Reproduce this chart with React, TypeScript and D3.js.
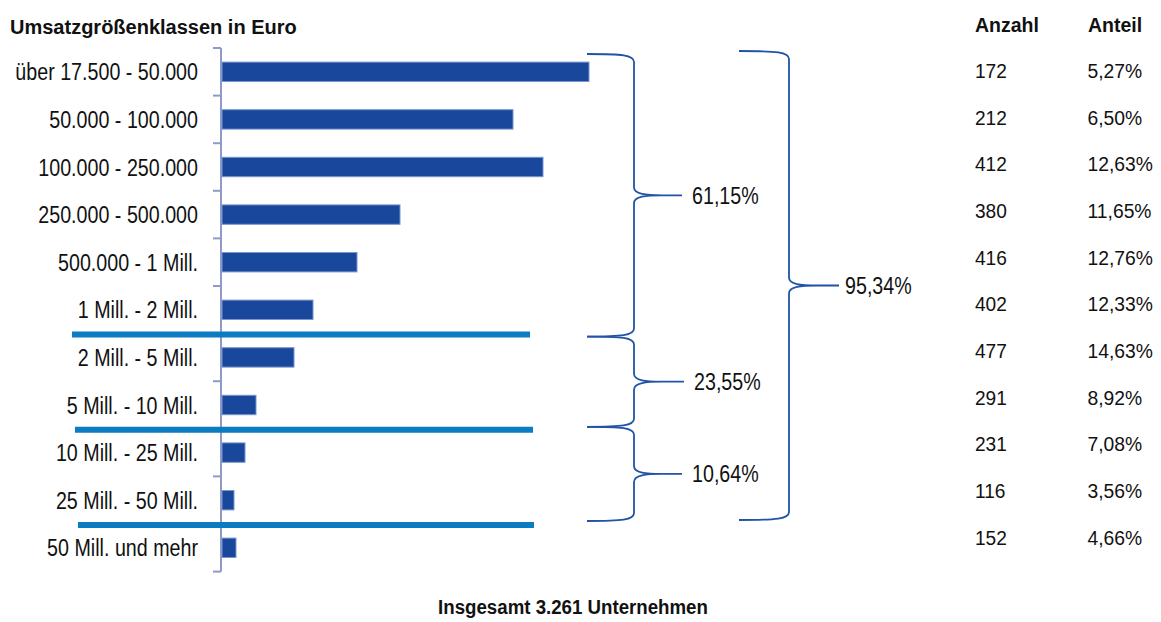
import React from "react";
import * as d3 from "d3";

const categories = [
  "über 17.500 - 50.000",
  "50.000 - 100.000",
  "100.000 - 250.000",
  "250.000 - 500.000",
  "500.000 - 1 Mill.",
  "1 Mill. - 2 Mill.",
  "2 Mill. - 5 Mill.",
  "5 Mill. - 10 Mill.",
  "10 Mill. - 25 Mill.",
  "25 Mill. - 50 Mill.",
  "50 Mill. und mehr",
];
const barValues = [367, 291, 321, 178, 135, 91, 72, 34, 23, 12, 14];
const anzahl = [172, 212, 412, 380, 416, 402, 477, 291, 231, 116, 152];
const anteil = ["5,27%", "6,50%", "12,63%", "11,65%", "12,76%", "12,33%", "14,63%", "8,92%", "7,08%", "3,56%", "4,66%"];
const groupLabels = ["61,15%", "23,55%", "10,64%", "95,34%"];
const groupRanges = [[0, 6], [6, 8], [8, 10], [0, 10]];
const separatorRows = [6, 8, 10];

const FONT = "'Liberation Sans', Arial, sans-serif";
const BAR = "#19479b";
const BRACE = "#2153a6";
const SEP = "#0b7cc1";
const AXIS = "#8f9ac8";

function bracePath(x0: number, xv: number, xt: number, y0: number, y1: number) {
  const r = 8;
  const ym = (y0 + y1) / 2;
  return [
    `M${x0},${y0}`,
    `C${xv - 12},${y0} ${xv},${y0 + 1} ${xv},${y0 + r}`,
    `L${xv},${ym - r}`,
    `C${xv},${ym - 1} ${xv + 12},${ym} ${xv + 28},${ym}`,
    `L${xt},${ym}`,
    `M${xv + 28},${ym}`,
    `C${xv + 12},${ym} ${xv},${ym + 1} ${xv},${ym + r}`,
    `L${xv},${y1 - r}`,
    `C${xv},${y1 - 1} ${xv - 12},${y1} ${x0},${y1}`,
  ].join(" ");
}

export default function App() {
  const W = 1161, H = 622;
  const axisX = 221;
  const y = d3.scaleBand<number>().domain(d3.range(categories.length)).range([48, 571.6]).paddingInner(0).paddingOuter(0);
  const bw = y.bandwidth();
  const barH = 19.4;
  const x = d3.scaleLinear().domain([0, 367]).range([axisX, 588]);
  const rowY = d3.scaleLinear().domain([0, categories.length - 1]).range([71, 537.5]);
  const boundary = (i: number) => (y(0) as number) + i * bw;

  const sepExt = [[72, 530], [75, 533], [78, 534]];
  const braceAdj = [[6, 3], [3, -2], [-2, -3], [3, -4]];
  const braceX = [[587, 634, 682], [587, 634, 684], [587, 634, 682], [739, 789, 839]];

  return (
    <svg width={W} height={H} style={{ position: "absolute", left: 0, top: 0, background: "#fff" }}>
      <text x={10} y={34} fontFamily={FONT} fontWeight="bold" fontSize={20} fill="#111">Umsatzgrößenklassen in Euro</text>
      <text x={975} y={32} fontFamily={FONT} fontWeight="bold" fontSize={19.5} fill="#111">Anzahl</text>
      <text x={1088} y={32} fontFamily={FONT} fontWeight="bold" fontSize={19.5} fill="#111">Anteil</text>

      {/* axis */}
      <line x1={axisX} x2={axisX} y1={boundary(0)} y2={boundary(categories.length)} stroke={AXIS} strokeWidth={2} />
      {d3.range(categories.length + 1).map((i) => (
        <line key={"t" + i} x1={213} x2={axisX} y1={boundary(i)} y2={boundary(i)} stroke={AXIS} strokeWidth={2} />
      ))}

      {/* bars */}
      {barValues.map((v, i) => (
        <rect key={"b" + i} x={x(0) + 1} y={(y(i) as number) + bw / 2 - barH / 2} width={x(v) - x(0)} height={barH}
          fill={BAR} stroke="#7b95cf" strokeWidth={1} />
      ))}

      {/* category labels */}
      {categories.map((c, i) => (
        <text key={"c" + i} transform={`translate(198,${(y(i) as number) + bw / 2 + 8.5}) scale(0.82,1)`}
          textAnchor="end" fontFamily={FONT} fontSize={24} fill="#111">{c}</text>
      ))}

      {/* separators */}
      {separatorRows.map((r, k) => (
        <line key={"s" + k} x1={sepExt[k][0]} x2={sepExt[k][1]} y1={boundary(r) + 1} y2={boundary(r) + 1} stroke={SEP} strokeWidth={6} />
      ))}

      {/* braces */}
      {groupRanges.map((g, k) => {
        const y0 = boundary(g[0]) + braceAdj[k][0];
        const y1 = boundary(g[1]) + braceAdj[k][1];
        const [x0, xv, xt] = braceX[k];
        return (
          <g key={"g" + k}>
            <path d={bracePath(x0, xv, xt, y0, y1)} fill="none" stroke={BRACE} strokeWidth={1.8} />
            <text transform={`translate(${xt + (k === 3 ? 6 : 10)},${(y0 + y1) / 2 + 8.5}) scale(0.82,1)`}
              fontFamily={FONT} fontSize={24} fill="#111">{groupLabels[k]}</text>
          </g>
        );
      })}

      {/* table */}
      {anzahl.map((a, i) => (
        <text key={"a" + i} transform={`translate(975,${rowY(i) + 7}) scale(0.91,1)`} fontFamily={FONT} fontSize={21} fill="#111">{a}</text>
      ))}
      {anteil.map((a, i) => (
        <text key={"p" + i} transform={`translate(1087.5,${rowY(i) + 7}) scale(0.92,1)`} fontFamily={FONT} fontSize={21} fill="#111">{a}</text>
      ))}

      <text transform={`translate(573,614) scale(0.89,1)`} textAnchor="middle" fontFamily={FONT} fontWeight="bold" fontSize={21} fill="#111">Insgesamt 3.261 Unternehmen</text>
    </svg>
  );
}
